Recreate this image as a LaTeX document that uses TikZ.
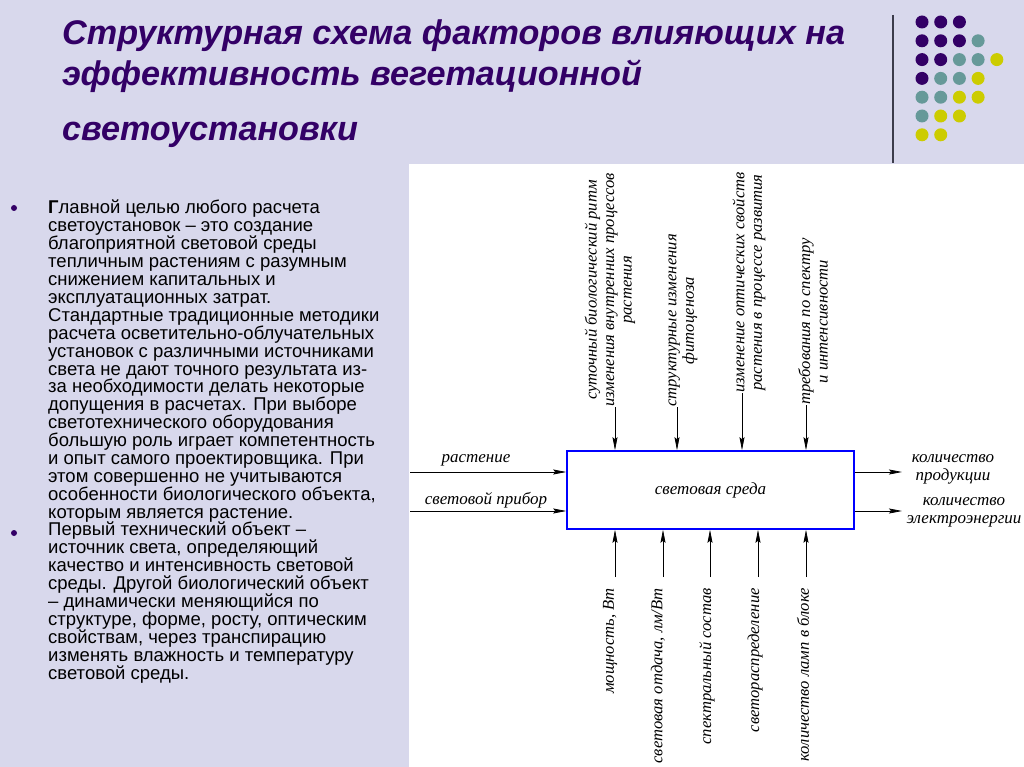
\documentclass[tikz,border=0pt]{standalone}
\usepackage{fontspec}
\setmainfont{Liberation Serif}
\newfontfamily\arialfont{Liberation Sans}
\usetikzlibrary{arrows.meta,positioning}
\definecolor{slidebg}{RGB}{216,216,236}
\definecolor{titlecol}{RGB}{51,0,102}
\definecolor{dotP}{RGB}{51,0,102}
\definecolor{dotT}{RGB}{102,153,153}
\definecolor{dotY}{RGB}{204,204,0}
\definecolor{rulecol}{RGB}{60,60,75}
\begin{document}
\begin{tikzpicture}[x=1pt, y=-1pt,
    arr/.style={-{Stealth[length=13pt,width=5pt,inset=2pt]}, line width=0.7pt},
    lbl/.style={font=\fontsize{17}{18}\selectfont\itshape, inner sep=0pt, align=center},
    vlbl/.style={lbl, font=\fontsize{16.6}{17.5}\selectfont\itshape, rotate=90},
    titletext/.style={font=\arialfont\bfseries\itshape\fontsize{34.2}{40}\selectfont, text=titlecol, inner sep=0pt, anchor=base west},
    body/.style={font=\arialfont\fontsize{18.5}{17.9}\selectfont, inner sep=0pt, align=left, anchor=north west}]

  % Slide
  \fill[slidebg] (0,0) rectangle (1024,767);
  \useasboundingbox (0,0) rectangle (1024,767);
  \fill[white] (409,164) rectangle (1024,767);

  % Title
  \node[titletext] (title1) at (62,45) {Структурная схема факторов влияющих на};
  \node[titletext] (title2) at (62,86) {эффективность вегетационной};
  \node[titletext] (title3) at (62,141) {светоустановки};

  % Dots
  \draw[rulecol, line width=1.5pt] (893,15) -- (893,163);
  \foreach \row [count=\j from 0] in {{P,P,P},{P,P,P,T},{P,P,T,T,Y},{P,T,T,Y},{T,T,Y,Y},{T,Y,Y},{Y,Y}}
    \foreach \c [count=\i from 0] in \row
      \fill[fill=dot\c] (922+18.7*\i, 22+18.8*\j) circle (6.5pt);

  % Text
  \fill[titlecol] (14,208) circle (3pt);
  \fill[titlecol] (14,533) circle (3pt);
  \node[body] (para1) at (48,200) {\textbf{Г}лавной целью любого расчета\\
    светоустановок – это создание\\
    благоприятной световой среды\\
    тепличным растениям с разумным\\
    снижением капитальных и\\
    эксплуатационных затрат.\\
    Стандартные традиционные методики\\
    расчета осветительно-облучательных\\
    установок с различными источниками\\
    света не дают точного результата из-\\
    за необходимости делать некоторые\\
    допущения в расчетах. При выборе\\
    светотехнического оборудования\\
    большую роль играет компетентность\\
    и опыт самого проектировщика. При\\
    этом совершенно не учитываются\\
    особенности биологического объекта,\\
    которым является растение.};
  \node[body] (para2) at (48,522) {Первый технический объект –\\
    источник света, определяющий\\
    качество и интенсивность световой\\
    среды. Другой биологический объект\\
    – динамически меняющийся по\\
    структуре, форме, росту, оптическим\\
    свойствам, через транспирацию\\
    изменять влажность и температуру\\
    световой среды.};

  % Block
  \node[lbl, draw=blue, line width=1.6pt, minimum width=287pt, minimum height=78pt] (box) at (710.5,490) {световая среда};

  % Inputs
  \coordinate (in1) at (410,472);
  \coordinate (in2) at (410,511);
  \draw[arr] (in1) -- (in1 -| box.west);
  \draw[arr] (in2) -- (in2 -| box.west);
  \node[lbl] (lin1) at (476,460) {растение};
  \node[lbl] (lin2) at (486,500) {световой прибор};

  % Outputs
  \coordinate (out1) at (902,472);
  \coordinate (out2) at (902,511);
  \draw[arr] (out1 -| box.east) -- (out1);
  \draw[arr] (out2 -| box.east) -- (out2);
  \node[lbl] (lout1) at (953,469) {количество\\продукции};
  \node[lbl] (lout2) at (964,512) {количество\\электроэнергии};

  % Top factors
  \coordinate (t1) at (615,407);
  \coordinate (t2) at (677,407);
  \coordinate (t3) at (742,393);
  \coordinate (t4) at (806,405);
  \foreach \t in {t1,t2,t3,t4} \draw[arr] (\t) -- (\t |- box.north);
  \node[vlbl, anchor=west] (ltop1) at (610,407) {суточный биологический ритм\\изменения внутренних процессов\\растения};
  \node[vlbl, anchor=west] (ltop2) at (683,407) {структурные изменения\\фитоценоза};
  \node[vlbl, anchor=west] (ltop3) at (749,393) {изменение оптических свойств\\растения в процессе развития};
  \node[vlbl, anchor=west] (ltop4) at (813,405) {требования по спектру\\и интенсивности};

  % Bottom factors
  \coordinate (b1) at (615,577);
  \coordinate (b2) at (663,577);
  \coordinate (b3) at (710,577);
  \coordinate (b4) at (758,577);
  \coordinate (b5) at (806,577);
  \foreach \b in {b1,b2,b3,b4,b5} \draw[arr] (\b) -- (\b |- box.south);
  \node[vlbl, anchor=east] (lbot1) at (610,588) {мощность, Вт};
  \node[vlbl, anchor=east] (lbot2) at (658,588) {световая отдача, лм/Вт};
  \node[vlbl, anchor=east] (lbot3) at (707,588) {спектральный состав};
  \node[vlbl, anchor=east] (lbot4) at (755,588) {светораспределение};
  \node[vlbl, anchor=east] (lbot5) at (803,588) {количество ламп в блоке};

\end{tikzpicture}
\end{document}
